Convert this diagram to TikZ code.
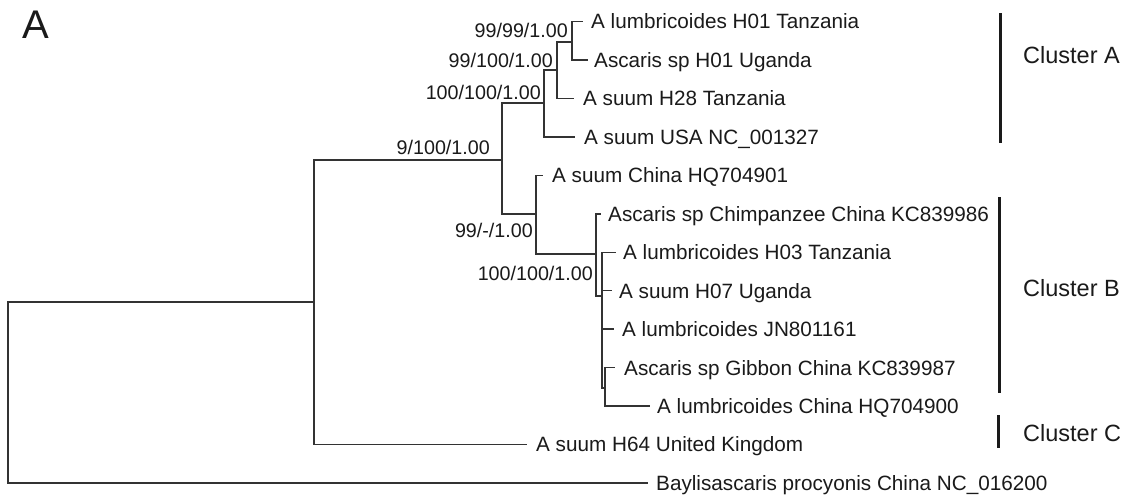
\documentclass[tikz,border=0pt]{standalone}
\usepackage{fontspec}
\setmainfont{Liberation Sans}
\definecolor{ink}{HTML}{1A1A1A}
\definecolor{branch}{HTML}{333333}
\begin{document}
\begin{tikzpicture}[x=1pt,y=-1pt,
  br/.style={line width=1.4pt, draw=branch},
  leaf/.style={anchor=west, inner sep=0pt, text height=14.8pt, text depth=0pt, text=ink, font=\fontsize{20.7}{24}\selectfont},
  bs/.style={anchor=east, inner sep=0pt, text height=14.1pt, text depth=0pt, text=ink, font=\fontsize{19.7}{23}\selectfont},
  cl/.style={anchor=west, inner sep=0pt, text height=16.8pt, text depth=0pt, text=ink, font=\fontsize{23.5}{27}\selectfont},
  bar/.style={line width=3pt, draw=ink}]
\useasboundingbox (0,0) rectangle (1132,498);
\fill[white] (0,0) rectangle (1132,498);

% panel label
\node[anchor=base west, inner sep=0pt, text=ink, font=\fontsize{40}{44}\selectfont] (panel) at (22,38) {A};

% internal nodes
\coordinate (R) at (8,392.5);
\coordinate (I) at (314,302);
\coordinate (N9) at (502,160);
\coordinate (NA) at (544,103);
\coordinate (N91) at (557,70);
\coordinate (N92) at (572,42);
\coordinate (NM) at (536,214);
\coordinate (NB) at (596,254);
\coordinate (N1) at (602,296);
\coordinate (N2) at (605,388);

% leaf tips
\coordinate (t1) at (583,21.5);
\coordinate (t2) at (588,60);
\coordinate (t3) at (574,98.4);
\coordinate (t4) at (575,136.9);
\coordinate (t5) at (543,175.3);
\coordinate (t6) at (601,213.8);
\coordinate (t7) at (616,252.2);
\coordinate (t8) at (612,290.7);
\coordinate (t9) at (614,329.1);
\coordinate (t10) at (615,367.6);
\coordinate (t11) at (650,406);
\coordinate (t12) at (527,444.5);
\coordinate (t13) at (648,482.9);

% leaf labels
\node[leaf] (l1) at (591,21.5) {A lumbricoides H01 Tanzania};
\node[leaf] (l2) at (594,60) {Ascaris sp H01 Uganda};
\node[leaf] (l3) at (583,98.4) {A suum H28 Tanzania};
\node[leaf] (l4) at (584,136.9) {A suum USA NC\_001327};
\node[leaf] (l5) at (552,175.3) {A suum China HQ704901};
\node[leaf] (l6) at (608,213.8) {Ascaris sp Chimpanzee China KC839986};
\node[leaf] (l7) at (623,252.2) {A lumbricoides H03 Tanzania};
\node[leaf] (l8) at (619,290.7) {A suum H07 Uganda};
\node[leaf] (l9) at (622,329.1) {A lumbricoides JN801161};
\node[leaf] (l10) at (624,367.6) {Ascaris sp Gibbon China KC839987};
\node[leaf] (l11) at (657,406) {A lumbricoides China HQ704900};
\node[leaf] (l12) at (536,444.5) {A suum H64 United Kingdom};
\node[leaf] (l13) at (656,482.9) {Baylisascaris procyonis China NC\_016200};

% branches
\draw[br] (R) |- (I);
\draw[br] (R) |- (t13);
\draw[br] (I) |- (N9);
\draw[br] (I) |- (t12);
\draw[br] (N9) |- (NA);
\draw[br] (N9) |- (NM);
\draw[br] (NA) |- (N91);
\draw[br] (NA) |- (t4);
\draw[br] (N91) |- (N92);
\draw[br] (N91) |- (t3);
\draw[br] (N92) |- (t1);
\draw[br] (N92) |- (t2);
\draw[br] (NM) |- (t5);
\draw[br] (NM) |- (NB);
\draw[br] (NB) |- (t6);
\draw[br] (NB) |- (N1);
\draw[br] (N1) |- (t7);
\draw[br] (N1) |- (t8);
\draw[br] (N1) |- (t9);
\draw[br] (N1) |- (N2);
\draw[br] (N2) |- (t10);
\draw[br] (N2) |- (t11);

% support values
\node[bs] (s1) at (568,30) {99/99/1.00};
\node[bs] (s2) at (553,60) {99/100/1.00};
\node[bs] (s3) at (541,92) {100/100/1.00};
\node[bs] (s4) at (490,147) {9/100/1.00};
\node[bs] (s5) at (533,230) {99/-/1.00};
\node[bs] (s6) at (593,273) {100/100/1.00};

% cluster bars
\coordinate (a1) at (1000,13);
\coordinate (a2) at (1000,143);
\coordinate (b1) at (999,197);
\coordinate (b2) at (999,393);
\coordinate (c1) at (998,415);
\coordinate (c2) at (998,448);
\draw[bar] (a1) -- (a2);
\draw[bar] (b1) -- (b2);
\draw[bar] (c1) -- (c2);
\node[cl] (ca) at (1023,55) {Cluster A};
\node[cl] (cb) at (1023,288) {Cluster B};
\node[cl] (cc) at (1023,433) {Cluster C};
\end{tikzpicture}
\end{document}
